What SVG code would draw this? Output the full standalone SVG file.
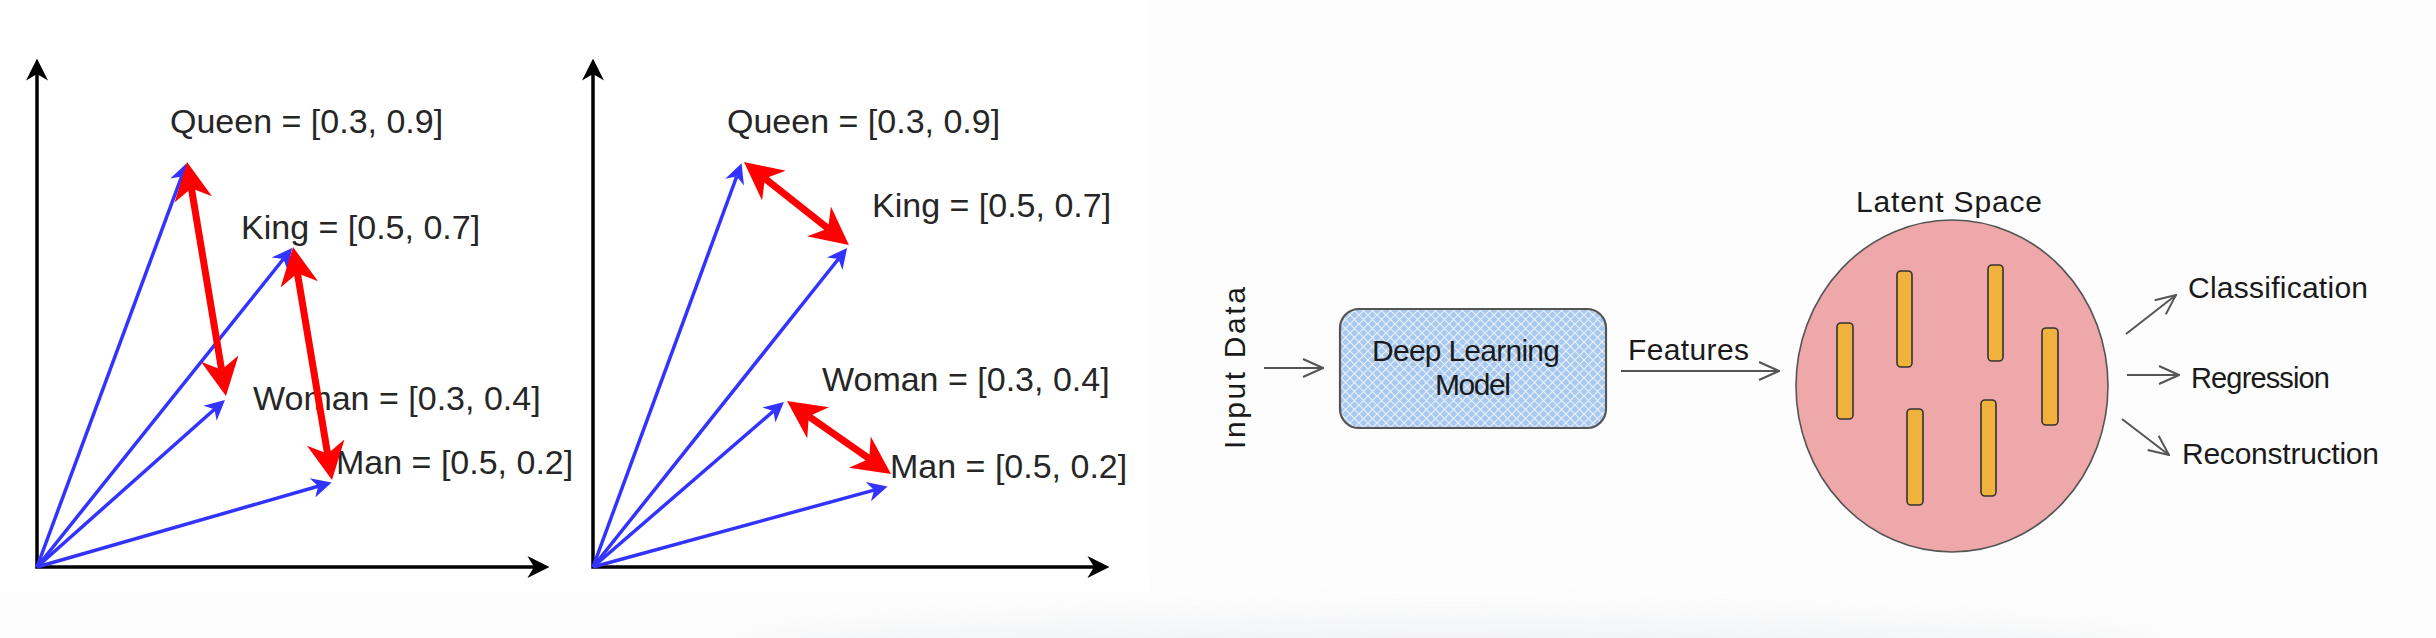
<svg xmlns="http://www.w3.org/2000/svg" width="2436" height="638" viewBox="0 0 2436 638">
<style>
.lbl{font-family:"Liberation Sans",Arial,sans-serif;font-size:34px;fill:#262626}
.hand{font-family:"Liberation Sans",Arial,sans-serif;font-size:30px;fill:#1a1a1a}
.axis{fill:none;stroke:#000;stroke-width:3.5;marker-start:url(#axHead);marker-end:url(#axHead)}
.vec{fill:none;stroke:#3333ff;stroke-width:3.5;marker-end:url(#blueHead)}
.diff{fill:none;stroke:#ff0000;stroke-width:7;marker-start:url(#redHead);marker-end:url(#redHead)}
.sk{fill:none;stroke:#555;stroke-width:2;marker-end:url(#openHead)}
.bar{fill:#f0b23c;stroke:#333;stroke-width:1.6}
</style>
<defs>
<marker id="axHead" markerUnits="userSpaceOnUse" viewBox="0 0 10 10" markerWidth="22" markerHeight="22" refX="3" refY="5" orient="auto-start-reverse">
<path d="M0,0 L10,5 L0,10 L3,5 Z" fill="#000"/>
</marker>
<marker id="blueHead" markerUnits="userSpaceOnUse" viewBox="0 0 10 10" markerWidth="22" markerHeight="20" refX="3" refY="5" orient="auto">
<path d="M0,0 L10,5 L0,10 L3,5 Z" fill="#3333ff"/>
</marker>
<marker id="redHead" markerUnits="userSpaceOnUse" viewBox="0 0 10 10" markerWidth="38" markerHeight="38" refX="3" refY="5" orient="auto-start-reverse">
<path d="M0,0 L10,5 L0,10 L3,5 Z" fill="#ff0000"/>
</marker>
<marker id="openHead" markerUnits="userSpaceOnUse" viewBox="0 0 22 20" markerWidth="22" markerHeight="20" refX="21" refY="10" orient="auto">
<path d="M1,1 L21,10 L1,19" fill="none" stroke="#555" stroke-width="2"/>
</marker>
<pattern id="hatch" patternUnits="userSpaceOnUse" width="9" height="9">
<rect width="9" height="9" fill="#a8c8ee"/>
<path d="M0,0 L9,9 M9,0 L0,9" stroke="#e8f1fc" stroke-width="1.2"/>
</pattern>
<filter id="soft" x="-20%" y="-200%" width="140%" height="500%"><feGaussianBlur stdDeviation="18"/></filter>
</defs>
<rect width="2436" height="638" fill="#fdfdfd"/>
<rect width="1150" height="592" fill="#ffffff"/>
<ellipse cx="1450" cy="652" rx="720" ry="34" fill="#eceef1" opacity="0.7" filter="url(#soft)"/>

<!-- Left chart -->
<g id="chart-left">
<path class="axis" d="M37,74 L37,567 L534,567"/>
<text class="lbl" x="170" y="133">Queen = [0.3, 0.9]</text>
<text class="lbl" x="241" y="239">King = [0.5, 0.7]</text>
<text class="lbl" x="253" y="410">Woman = [0.3, 0.4]</text>
<text class="lbl" x="336" y="474">Man = [0.5, 0.2]</text>
</g>
<!-- Right chart -->
<g id="chart-right">
<path class="axis" d="M593,74 L593,567 L1094,567"/>
<text class="lbl" x="727" y="133">Queen = [0.3, 0.9]</text>
<text class="lbl" x="872" y="217">King = [0.5, 0.7]</text>
<text class="lbl" x="822" y="391">Woman = [0.3, 0.4]</text>
<text class="lbl" x="890" y="478">Man = [0.5, 0.2]</text>
</g>

<g id="vectors">
<path class="vec" d="M37,567 L181.7,176.4"/>
<path class="vec" d="M37,567 L283.4,259"/>
<path class="vec" d="M37,567 L214.5,409.2"/>
<path class="vec" d="M37,567 L318.2,486.3"/>
<path class="vec" d="M593,567 L736.7,176.5"/>
<path class="vec" d="M593,567 L838.4,259"/>
<path class="vec" d="M593,567 L773.4,411.1"/>
<path class="vec" d="M593,567 L874.1,490.1"/>
<path class="diff" d="M191.4,188.2 L221.6,369.8"/>
<path class="diff" d="M297.4,273.2 L327.6,453.8"/>
<path class="diff" d="M764.9,178.5 L828.1,228.5"/>
<path class="diff" d="M808.8,416.3 L869.2,458.7"/>
</g>

<!-- Sketch pipeline -->
<g id="input-data">
<text class="hand" transform="translate(1245,368) rotate(-90)" text-anchor="middle" textLength="162" lengthAdjust="spacing">Input Data</text>
</g>
<g id="deep-learning-model">
<rect x="1340" y="309" width="266" height="119" rx="19" fill="url(#hatch)" stroke="#555" stroke-width="2.2"/>
<text class="hand" x="1466" y="361" text-anchor="middle" textLength="188" lengthAdjust="spacing">Deep Learning</text>
<text class="hand" x="1473" y="395" text-anchor="middle" textLength="76" lengthAdjust="spacing">Model</text>
</g>
<g id="features-label">
<text class="hand" x="1628" y="360" textLength="121" lengthAdjust="spacing">Features</text>
</g>
<g id="latent-space">
<text class="hand" x="1856" y="212" textLength="186" lengthAdjust="spacing">Latent Space</text>
<ellipse cx="1952" cy="386" rx="156" ry="166" fill="#eea8a9" stroke="#555" stroke-width="1.6"/>
<rect class="bar" x="1837" y="323" width="16" height="96" rx="4"/>
<rect class="bar" x="1897" y="271" width="15" height="96" rx="4"/>
<rect class="bar" x="1988" y="265" width="15" height="96" rx="4"/>
<rect class="bar" x="2042" y="328" width="16" height="97" rx="4"/>
<rect class="bar" x="1907" y="409" width="16" height="96" rx="4"/>
<rect class="bar" x="1981" y="400" width="15" height="96" rx="4"/>
</g>
<g id="classification"><text class="hand" x="2188" y="298" textLength="180" lengthAdjust="spacing">Classification</text></g>
<g id="regression"><text class="hand" style="font-size:29px" x="2191" y="388" textLength="139" lengthAdjust="spacing">Regression</text></g>
<g id="reconstruction"><text class="hand" x="2182" y="464" textLength="197" lengthAdjust="spacing">Reconstruction</text></g>

<g id="connectors">
<path class="sk" d="M1264,368 L1323,368"/>
<path class="sk" d="M1621,371 L1779,371"/>
<path class="sk" d="M2126,334 L2176,295"/>
<path class="sk" d="M2127,375 L2179,375"/>
<path class="sk" d="M2122,419 L2169,455"/>
</g>
</svg>
